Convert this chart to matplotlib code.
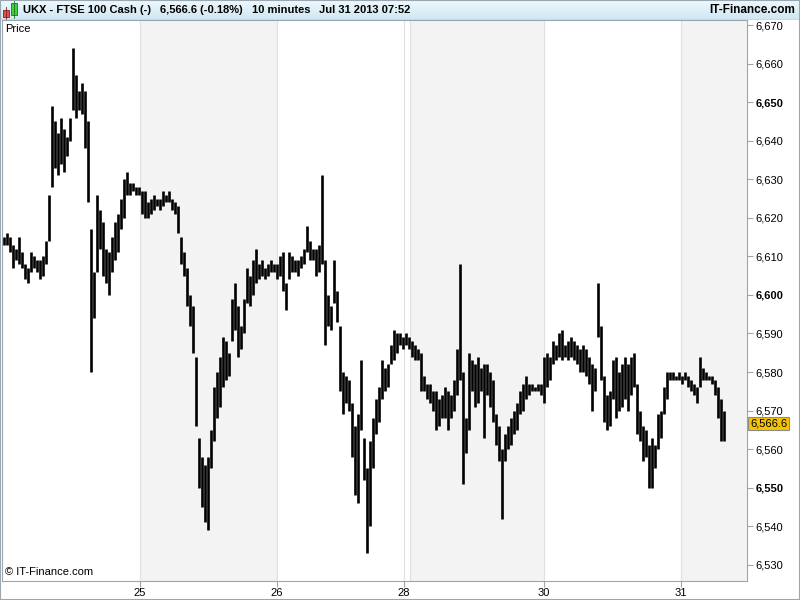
import matplotlib
matplotlib.use('Agg')
import matplotlib.pyplot as plt
from matplotlib.patches import Rectangle
import numpy as np

plt.rcParams['font.family'] = ['Liberation Sans', 'DejaVu Sans']

# 10 minute bars, high / low (FTSE 100 cash, Jul 24 - Jul 31 2013)
highs = [6615, 6616, 6615, 6613, 6612, 6615, 6611, 6608, 6607, 6611,
         6610, 6609, 6609, 6610, 6614, 6626, 6649, 6645, 6642, 6646,
         6643, 6641, 6646, 6664, 6657, 6653, 6655, 6653, 6645, 6617,
         6606, 6626, 6622, 6619, 6612, 6611, 6615, 6619, 6621, 6625,
         6630, 6632, 6629, 6629, 6628, 6628, 6627, 6627, 6624, 6625,
         6626, 6625, 6625, 6627, 6626, 6627, 6625, 6624, 6623, 6615,
         6611, 6607, 6600, 6597, 6584, 6563, 6558, 6556, 6558, 6565,
         6576, 6580, 6584, 6589, 6588, 6585, 6599, 6603, 6597, 6592,
         6599, 6607, 6605, 6609, 6612, 6608, 6609, 6607, 6608, 6609,
         6608, 6608, 6610, 6611, 6603, 6611, 6610, 6609, 6609, 6610,
         6612, 6618, 6614, 6612, 6612, 6613, 6631, 6609, 6600, 6597,
         6609, 6601, 6592, 6580, 6579, 6578, 6572, 6566, 6569, 6583,
         6563, 6555, 6562, 6568, 6573, 6576, 6583, 6581, 6582, 6587,
         6591, 6590, 6590, 6589, 6590, 6589, 6588, 6587, 6586, 6585,
         6579, 6577, 6577, 6575, 6575, 6573, 6574, 6576, 6575, 6574,
         6578, 6586, 6608, 6580, 6568, 6585, 6583, 6582, 6584, 6581,
         6582, 6582, 6580, 6578, 6569, 6566, 6560, 6564, 6566, 6568,
         6570, 6572, 6575, 6577, 6579, 6577, 6577, 6576, 6577, 6577,
         6584, 6585, 6584, 6588, 6587, 6590, 6591, 6587, 6588, 6589,
         6588, 6587, 6586, 6587, 6586, 6584, 6582, 6581, 6603, 6592,
         6579, 6574, 6575, 6583, 6584, 6580, 6582, 6584, 6582, 6584,
         6585, 6577, 6570, 6566, 6565, 6561, 6563, 6561, 6569, 6570,
         6576, 6580, 6580, 6580, 6579, 6580, 6579, 6580, 6579, 6578,
         6577, 6576, 6584, 6581, 6580, 6579, 6579, 6578, 6576, 6573,
         6570]
lows = [6613, 6613, 6611, 6607, 6609, 6608, 6607, 6604, 6603, 6606,
        6607, 6606, 6604, 6605, 6608, 6614, 6628, 6633, 6631, 6634,
        6632, 6636, 6640, 6648, 6646, 6648, 6647, 6638, 6624, 6580,
        6594, 6606, 6612, 6605, 6603, 6600, 6606, 6609, 6611, 6617,
        6620, 6626, 6626, 6627, 6626, 6626, 6621, 6620, 6620, 6621,
        6622, 6623, 6622, 6623, 6624, 6624, 6622, 6621, 6616, 6608,
        6605, 6597, 6592, 6585, 6566, 6550, 6545, 6541, 6539, 6555,
        6562, 6568, 6571, 6576, 6578, 6579, 6588, 6591, 6584, 6586,
        6590, 6598, 6597, 6600, 6603, 6604, 6605, 6604, 6605, 6606,
        6606, 6604, 6605, 6601, 6596, 6604, 6606, 6606, 6605, 6607,
        6608, 6611, 6609, 6609, 6605, 6606, 6608, 6587, 6592, 6591,
        6598, 6593, 6575, 6569, 6572, 6570, 6558, 6548, 6546, 6565,
        6552, 6533, 6540, 6555, 6564, 6567, 6573, 6575, 6576, 6582,
        6583, 6585, 6587, 6586, 6587, 6586, 6584, 6583, 6583, 6575,
        6575, 6573, 6572, 6570, 6565, 6566, 6568, 6568, 6565, 6568,
        6570, 6574, 6578, 6551, 6559, 6565, 6575, 6571, 6572, 6575,
        6563, 6574, 6571, 6567, 6561, 6557, 6542, 6557, 6560, 6561,
        6564, 6565, 6569, 6570, 6573, 6574, 6575, 6575, 6575, 6574,
        6572, 6576, 6578, 6582, 6583, 6584, 6583, 6584, 6583, 6584,
        6583, 6582, 6580, 6580, 6579, 6577, 6570, 6575, 6589, 6578,
        6567, 6565, 6566, 6573, 6568, 6570, 6571, 6573, 6570, 6574,
        6576, 6564, 6562, 6557, 6558, 6550, 6550, 6555, 6560, 6563,
        6569, 6573, 6578, 6578, 6578, 6578, 6577, 6578, 6576, 6575,
        6574, 6572, 6576, 6578, 6578, 6578, 6577, 6574, 6568, 6562,
        6562]
last_price = 6566.6

# day boundaries in bar units
day_labels = ['25', '26', '28', '30', '31']
day_ticks = [45.3, 91.0, 133.3, 180.0, 225.7]
grid_lines = [45.3, 91.0, 133.3, 135.3, 180.0, 225.7]
shaded_days = [(45.3, 91.0), (135.3, 180.0), (225.7, 248.0)]
price_ticks = list(range(6530, 6671, 10))
bold_ticks = [6550, 6600, 6650]

edge = '#9aa6b0'

fig = plt.figure(figsize=(8, 6), dpi=100)
ax = fig.add_axes([2 / 800, 19 / 600, 745 / 800, 561 / 600])
ax.set_xlim(-0.67, 247.67)
ax.set_ylim(6525.8, 6671.3)

for a, b in shaded_days:
    ax.axvspan(a, b, color='#f3f3f3', lw=0, zorder=0)
for g in grid_lines:
    ax.axvline(g, color='#e0e0e0', lw=0.8, zorder=0.5)

ax.vlines(np.arange(len(highs)), lows, highs, color='black', lw=1.9, zorder=2)

ax.yaxis.tick_right()
ax.set_yticks(price_ticks)
ax.set_yticklabels([f'{v:,}' for v in price_ticks])
for lbl, v in zip(ax.get_yticklabels(), price_ticks):
    if v in bold_ticks:
        lbl.set_fontweight('bold')
        lbl.set_fontsize(9)
ax.tick_params(axis='y', direction='out', length=4, pad=2, labelsize=8, color=edge)
ax.set_xticks(day_ticks)
ax.set_xticklabels(day_labels)
ax.tick_params(axis='x', direction='out', length=4, pad=1, labelsize=8, color=edge)
for s in ax.spines.values():
    s.set_color(edge)

ax.text(1.004, last_price, f'{last_price:,.1f}', transform=ax.get_yaxis_transform(),
        va='center', ha='left', fontsize=8,
        bbox=dict(boxstyle='square,pad=0.15', fc='#f5c400', ec='#8a8a8a', lw=0.8))
ax.text(0.004, 0.993, 'Price', transform=ax.transAxes, fontsize=8, va='top', ha='left')
ax.text(0.004, 0.008, '\u00a9 IT-Finance.com', transform=ax.transAxes, fontsize=8,
        va='bottom', ha='left')

# title bar
tax = fig.add_axes([0, 580 / 600, 1, 20 / 600])
grad = np.linspace(0, 1, 20).reshape(-1, 1)
tax.imshow(grad, aspect='auto', cmap=matplotlib.colors.LinearSegmentedColormap.from_list(
    'bar', ['#eef8fc', '#cfe7f3']), extent=[0, 800, 20, 0])
tax.set_xlim(0, 800)
tax.set_ylim(20, 0)
tax.axis('off')
tax.add_patch(Rectangle((3, 10), 6, 7, fc='#e05050', ec='#802020', lw=0.6))
tax.plot([6, 6], [7, 19], color='#802020', lw=0.6)
tax.add_patch(Rectangle((11, 3), 6, 12, fc='#40d040', ec='#207020', lw=0.6))
tax.plot([14, 14], [1, 18], color='#207020', lw=0.6)
for tx, s in [(23, 'UKX - FTSE 100 Cash (-)'), (160, '6,566.6 (-0.18%)'),
              (252, '10 minutes'), (319, 'Jul 31 2013 07:52')]:
    tax.text(tx, 10, s, fontsize=8, fontweight='bold', va='center', ha='left')
tax.text(795, 10, 'IT-Finance.com', fontsize=8.5, fontweight='bold', va='center', ha='right')
tax.axhline(19.5, color=edge, lw=1)

fig.patches.append(Rectangle((0, 0), 1, 1, transform=fig.transFigure, fill=False,
                             ec=edge, lw=1.5))

fig.savefig('out.png', dpi=100)
